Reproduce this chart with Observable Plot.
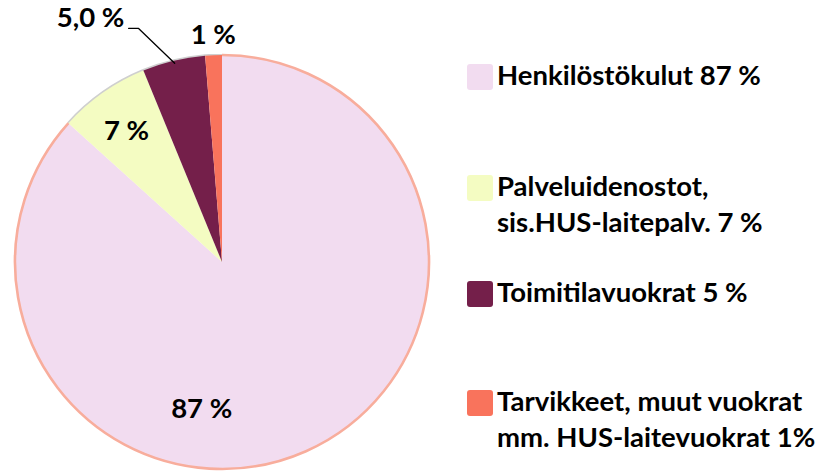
<!DOCTYPE html>
<html>
<head>
<meta charset="utf-8">
<script src="https://cdn.jsdelivr.net/npm/d3@7"></script>
<script src="https://cdn.jsdelivr.net/npm/@observablehq/plot@0.6"></script>
<style>
  html, body { margin: 0; padding: 0; background: #fff; }
  #wrap { position: relative; width: 828px; height: 471px; font-family: Lato, "DejaVu Sans", sans-serif; font-weight: 700; color: #000; }
  #chart { position: absolute; left: 0; top: 0; }
  #legend { position: absolute; left: 467px; top: 0; width: 361px; }
  .item { position: absolute; left: 0; display: flex; align-items: flex-start; }
  .sw { width: 26px; height: 26px; border-radius: 3px; flex: none; margin-right: 4px; }
  .lbl { font-size: 27.5px; line-height: 36px; white-space: nowrap; }
</style>
</head>
<body>
<div id="wrap"><div id="chart"></div><div id="legend"></div></div>
<script>
// ---- data ----
const categories = ["Henkilöstökulut", "Palveluidenostot", "Toimitilavuokrat", "Tarvikkeet"];
const shares = [86.7, 7.1, 4.9, 1.3];            // % of total
const sliceLabels = ["87 %", "7 %", "5,0 %", "1 %"];
const legendLabels = [
  ["Henkilöstökulut 87 %"],
  ["Palveluidenostot,", "sis.HUS-laitepalv. 7 %"],
  ["Toimitilavuokrat 5 %"],
  ["Tarvikkeet, muut vuokrat", "mm. HUS-laitevuokrat 1%"]
];
const colors = ["#F2DCF0", "#F4FCC2", "#741F4A", "#F9735C"];

// ---- layout (not data) ----
const labelPlacement = [ // radius (pie = 1) and angle shift (deg) from slice middle
  {r: 0.717, shift: 32},
  {r: 0.785, shift: -1.1},
  {r: 1.34, shift: -14.9},
  {r: 1.098, shift: 0}
];
const legendTops = [57.4, 168.4, 274.4, 383.4];
const FS = 27.5;

const rows = categories.map((c, i) => ({category: c, share: shares[i], label: sliceLabels[i], color: colors[i], i}));
const arcs = d3.pie().sort(null).value(d => d.share)(rows);

const polar = (a, r) => ({x: r * Math.sin(a), y: r * Math.cos(a)});
const labels = arcs.map((a, i) => {
  const p = labelPlacement[i];
  const mid = (a.startAngle + a.endAngle) / 2 + p.shift * Math.PI / 180;
  return {...polar(mid, p.r), text: a.data.label};
});
// leader line for the small maroon slice
const mArc = arcs[2];
const mMid = (mArc.startAngle + mArc.endAngle) / 2;
const lblM = labels[2];
const leader = [
  {x: lblM.x + 0.184, y: lblM.y - 0.048},
  {x: lblM.x + 0.232, y: lblM.y - 0.048},
  polar(mMid, 0.99)
];

function pieMark(index, {x, y}) {
  const cx = x(0), cy = y(0), R = x(1) - x(0);
  const g = d3.create("svg:g").attr("transform", `translate(${cx},${cy})`);
  const arc = d3.arc().innerRadius(0).outerRadius(R);
  const rim = d3.arc().innerRadius(R).outerRadius(R);
  const defs = g.append("defs");
  defs.append("filter").attr("id", "soft").append("feGaussianBlur").attr("stdDeviation", 0.7);
  // outer rim: grey shadow on small slices, salmon line on big slice
  g.selectAll("path.shadow").data(arcs.slice(1)).join("path")
    .attr("d", rim).attr("fill", "none").attr("stroke", "#cfcfcf").attr("stroke-width", 3).attr("filter", "url(#soft)");
  g.selectAll("path.slice").data(arcs).join("path")
    .attr("d", arc).attr("fill", d => d.data.color);
  g.append("path").datum(arcs[0]).attr("d", rim).attr("fill", "none")
    .attr("stroke", "#F8AD9C").attr("stroke-width", 2.6).attr("filter", "url(#soft)");
  return g.node();
}

const plot = Plot.plot({
  width: 440, height: 471,
  margin: 0,
  x: {domain: [-1, 1], range: [15, 429], axis: null},
  y: {domain: [-1, 1], range: [469, 55], axis: null},
  marks: [
    pieMark,
    Plot.line(leader, {x: "x", y: "y", stroke: "#000", strokeWidth: 1.3}),
    Plot.text(labels, {x: "x", y: "y", text: "text", fontSize: FS, fontWeight: 700, fill: "#000", fontFamily: "Lato"})
  ]
});
document.getElementById("chart").appendChild(plot);

const legend = d3.select("#legend");
legendLabels.forEach((lines, i) => {
  const it = legend.append("div").attr("class", "item").style("top", legendTops[i] + "px");
  it.append("div").attr("class", "sw").style("background", colors[i]).style("margin-top", "6.6px");
  it.append("div").attr("class", "lbl").html(lines.join("<br>"));
});
</script>
</body>
</html>
